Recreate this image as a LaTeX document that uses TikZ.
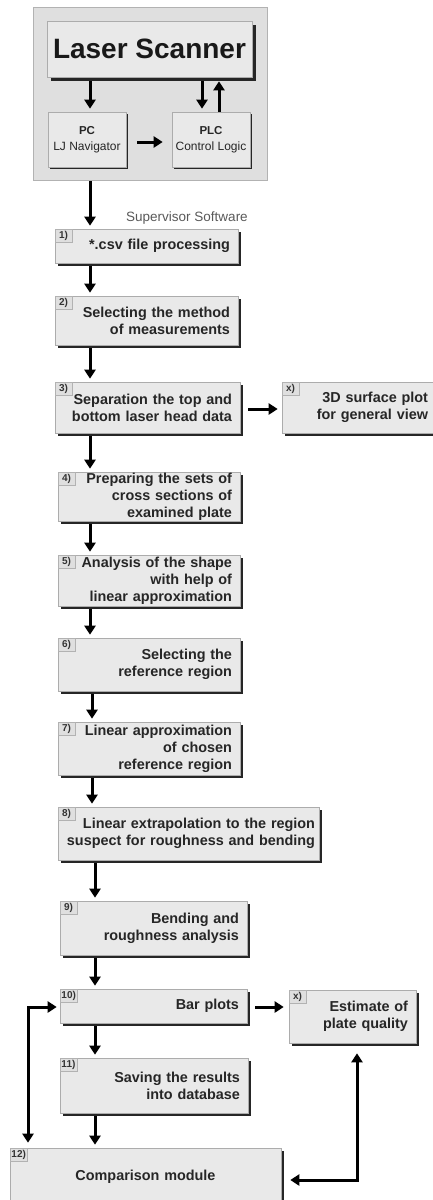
\documentclass[tikz,border=0pt]{standalone}
\usepackage{fontspec}
\setmainfont{Liberation Sans}
\usetikzlibrary{arrows.meta,calc,shadows}
\begin{document}
\begin{tikzpicture}[x=1pt,y=-1pt,
  shad/.style={drop shadow={shadow xshift=#1, shadow yshift=-#1, opacity=1, fill=black!85}},
  stepbox/.style={draw=gray!65, line width=0.6pt, fill=gray!17, shad=3pt, inner xsep=8pt, inner ysep=0pt,
    align=right, font=\bfseries\fontsize{14.4}{17}\selectfont, text=black!85},
  numbox/.style={draw=gray!60, fill=gray!25, line width=0.5pt, font=\bfseries\fontsize{10}{10}\selectfont,
    inner sep=1.5pt, minimum height=13pt, minimum width=17pt, anchor=north west, text=black!80},
  arr/.style={line width=3pt, -{Triangle[width=11pt,length=9pt]}},
  dbl/.style={line width=3pt, {Triangle[width=11pt,length=9pt]}-{Triangle[width=11pt,length=9pt]}},
]
\useasboundingbox (0,0) rectangle (432,1200);

% top container
\node[draw=gray!60, fill=gray!25, line width=0.6pt, minimum width=234pt, minimum height=173pt, inner sep=0pt] (outer) at (150,93.5) {};
\node[draw=gray!65, fill=gray!17, line width=0.6pt, shad=4pt, minimum width=205pt, minimum height=56pt, inner sep=0pt,
  font=\bfseries\fontsize{28}{28}\selectfont, text=black!90] (laser) at (149.5,49) {Laser Scanner};
\node[draw=gray!65, fill=gray!17, line width=0.6pt, shad=2pt, minimum width=78pt, minimum height=55pt, inner sep=0pt,
  align=center, font=\fontsize{12}{16}\selectfont, text=black!85] (pc) at (87,139.5) {{\bfseries\fontsize{11.5}{11.5}\selectfont PC}\\LJ Navigator};
\node[draw=gray!65, fill=gray!17, line width=0.6pt, shad=2pt, minimum width=78pt, minimum height=55pt, inner sep=0pt,
  align=center, font=\fontsize{12}{16}\selectfont, text=black!85] (plc) at (211,139.5) {{\bfseries\fontsize{11.5}{11.5}\selectfont PLC}\\Control Logic};

\node[font=\fontsize{13.5}{14}\selectfont, text=black!65] (sup) at (187,218) {Supervisor Software};

% steps
\node[stepbox, minimum width=183pt, text width=167pt, minimum height=34pt] (b1) at (146.5,246) {*.csv file processing};
\node[stepbox, minimum width=183pt, text width=167pt, minimum height=49pt] (b2) at (146.5,320.5) {Selecting the method\\of measurements};
\node[stepbox, minimum width=185pt, text width=169pt, minimum height=51pt] (b3) at (147.5,407.5) {Separation the top and\\bottom laser head data};
\node[stepbox, minimum width=154pt, text width=138pt, minimum height=51pt] (bx1) at (359,407.5) {3D surface plot\\for general view};
\node[stepbox, minimum width=182pt, text width=166pt, minimum height=49pt] (b4) at (149,496.5) {Preparing the sets of\\cross sections of\\examined plate};
\node[stepbox, minimum width=182pt, text width=166pt, minimum height=51pt] (b5) at (149,580.5) {Analysis of the shape\\with help of\\linear approximation};
\node[stepbox, minimum width=182pt, text width=166pt, minimum height=53pt] (b6) at (149,664.5) {Selecting the\\reference region};
\node[stepbox, minimum width=182pt, text width=166pt, minimum height=53pt] (b7) at (149,748.5) {Linear approximation\\of chosen\\reference region};
\node[stepbox, inner xsep=4pt, minimum width=261pt, text width=253pt, minimum height=53pt] (b8) at (188.5,833.5) {Linear extrapolation to the region\\suspect for roughness and bending};
\node[stepbox, minimum width=187pt, text width=171pt, minimum height=54pt] (b9) at (153.5,928) {Bending and\\roughness analysis};
\node[stepbox, minimum width=187pt, text width=171pt, minimum height=34pt] (b10) at (153.5,1006) {Bar plots};
\node[stepbox, minimum width=127pt, text width=111pt, minimum height=53pt] (bx2) at (352.5,1016.5) {Estimate of\\plate quality};
\node[stepbox, minimum width=188pt, text width=172pt, minimum height=55pt] (b11) at (154,1085.5) {Saving the results\\into database};
\node[stepbox, align=center, minimum width=271pt, text width=255pt, minimum height=58pt] (b12) at (145.5,1177) {Comparison module};

% number labels
\node[numbox] (n1) at (b1.north west) {1)};
\node[numbox] (n2) at (b2.north west) {2)};
\node[numbox] (n3) at (b3.north west) {3)};
\node[numbox] (nx1) at (bx1.north west) {x)};
\node[numbox] (n4) at (b4.north west) {4)};
\node[numbox] (n5) at (b5.north west) {5)};
\node[numbox] (n6) at (b6.north west) {6)};
\node[numbox] (n7) at (b7.north west) {7)};
\node[numbox] (n8) at (b8.north west) {8)};
\node[numbox] (n9) at (b9.north west) {9)};
\node[numbox] (n10) at (b10.north west) {10)};
\node[numbox] (nx2) at (bx2.north west) {x)};
\node[numbox] (n11) at (b11.north west) {11)};
\node[numbox] (n12) at (b12.north west) {12)};

% column coordinates
\coordinate (cA) at (90,0);
\coordinate (cB) at (92,0);
\coordinate (cC) at (95,0);
\coordinate (cD) at (202,0);
\coordinate (cU) at (219,0);
\coordinate (lc) at (28,1007);
\coordinate (rc) at (357,1180);

% connectors top
\draw[arr] ($(laser.south -| cA)+(0,4)$) -- ($(pc.north -| cA)+(0,-3)$);
\draw[arr] ($(laser.south -| cD)+(0,4)$) -- ($(plc.north -| cD)+(0,-3)$);
\draw[arr] (plc.north -| cU) -- ($(laser.south -| cU)+(0,4)$);
\draw[arr] ($(pc.east)+(11,2.5)$) -- ($(plc.west)+(-9,2.5)$);
\draw[arr] ($(outer.south -| cA)+(0,1)$) -- ($(b1.north -| cA)+(0,-3)$);

% connectors steps
\draw[arr] ($(b1.south -| cA)+(0,3)$) -- ($(b2.north -| cA)+(0,-3)$);
\draw[arr] ($(b2.south -| cA)+(0,3)$) -- ($(b3.north -| cA)+(0,-3)$);
\draw[arr] ($(b3.east)+(8,1.5)$) -- ($(bx1.west)+(-4,1.5)$);
\draw[arr] ($(b3.south -| cA)+(0,3)$) -- ($(b4.north -| cA)+(0,-3)$);
\draw[arr] ($(b4.south -| cA)+(0,3)$) -- ($(b5.north -| cA)+(0,-3)$);
\draw[arr] ($(b5.south -| cA)+(0,3)$) -- ($(b6.north -| cA)+(0,-3)$);
\draw[arr] ($(b6.south -| cB)+(0,3)$) -- ($(b7.north -| cB)+(0,-3)$);
\draw[arr] ($(b7.south -| cB)+(0,3)$) -- ($(b8.north -| cB)+(0,-3)$);
\draw[arr] ($(b8.south -| cC)+(0,3)$) -- ($(b9.north -| cC)+(0,-3)$);
\draw[arr] ($(b9.south -| cC)+(0,3)$) -- ($(b10.north -| cC)+(0,-3)$);
\draw[arr] ($(b10.east)+(8,1)$) -- ($(b10.east -| bx2.west)+(-5,1)$);
\draw[arr] ($(b10.south -| cC)+(0,3)$) -- ($(b11.north -| cC)+(0,-3)$);
\draw[arr] ($(b11.south -| cC)+(0,3)$) -- ($(b12.north -| cC)+(0,-3)$);

% feedback loops
\draw[dbl] ($(b10.west)+(-3,1)$) -- (lc) -- ($(b12.north -| lc)+(0,-5)$);
\draw[dbl] ($(bx2.south -| rc)+(0,10)$) -- (rc) -- ($(b12.east |- rc)+(9,0)$);
\end{tikzpicture}
\end{document}
